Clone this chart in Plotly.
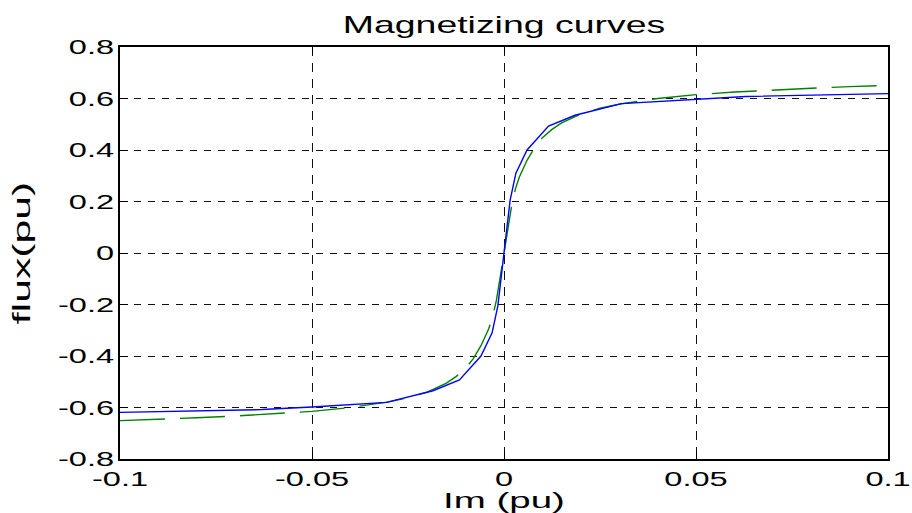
import plotly.graph_objects as go

# Measured magnetizing characteristic (piecewise linear), Im in pu vs flux in pu
im_measured = [-0.1, -0.063, -0.05, -0.0306, -0.0185, -0.0116, -0.006, -0.0031, -0.0016, 0.0,
               0.0016, 0.0031, 0.006, 0.0116, 0.0185, 0.0306, 0.05, 0.063, 0.1]
flux_measured = [-0.619, -0.608, -0.598, -0.580, -0.535, -0.493, -0.400, -0.310, -0.205, 0.0,
                 0.205, 0.310, 0.400, 0.493, 0.535, 0.580, 0.598, 0.608, 0.619]

# Fitted magnetizing curve
im_fit = [-0.1, -0.09, -0.08, -0.07, -0.06, -0.05, -0.04, -0.03, -0.025, -0.02, -0.015,
          -0.0125, -0.01, -0.008, -0.006, -0.004, -0.003, -0.002, -0.001, 0.0,
          0.001, 0.002, 0.003, 0.004, 0.006, 0.008, 0.01, 0.0125, 0.015, 0.02,
          0.025, 0.03, 0.04, 0.05, 0.06, 0.07, 0.08, 0.09, 0.1]
flux_fit = [-0.651, -0.646, -0.640, -0.633, -0.625, -0.615, -0.600, -0.578, -0.562, -0.540, -0.505,
            -0.480, -0.448, -0.410, -0.360, -0.295, -0.250, -0.185, -0.095, 0.0,
            0.095, 0.185, 0.250, 0.295, 0.360, 0.410, 0.448, 0.480, 0.505, 0.540,
            0.562, 0.578, 0.600, 0.615, 0.625, 0.633, 0.640, 0.646, 0.651]

x_ticks = [-0.1, -0.05, 0.0, 0.05, 0.1]
x_tick_text = ["-0.1", "-0.05", "0", "0.05", "0.1"]
y_ticks = [-0.8, -0.6, -0.4, -0.2, 0.0, 0.2, 0.4, 0.6, 0.8]
y_tick_text = ["-0.8", "-0.6", "-0.4", "-0.2", "0", "0.2", "0.4", "0.6", "0.8"]

FONT = "Liberation Sans, Arial, Helvetica, sans-serif"

fig = go.Figure()
fig.add_trace(go.Scatter(
    x=im_fit, y=flux_fit, mode="lines",
    line=dict(color="#008000", width=1.4, dash="45px,15px"),
    showlegend=False, hoverinfo="skip",
))
fig.add_trace(go.Scatter(
    x=im_measured, y=flux_measured, mode="lines",
    line=dict(color="#0000ff", width=1.4),
    showlegend=False, hoverinfo="skip",
))

axis_common = dict(
    showline=True, linecolor="black", linewidth=1.5, mirror="ticks",
    ticks="inside", ticklen=8, tickcolor="black", tickwidth=1,
    showgrid=True, gridcolor="#111111", gridwidth=1,
    zeroline=False, automargin=False,
    tickfont=dict(family=FONT, size=21, color="black"),
)

fig.update_xaxes(
    range=[-0.1, 0.1], tickvals=x_ticks, ticktext=x_tick_text,
    griddash="9px,7px",
    title=dict(text="Im (pu)", font=dict(family=FONT, size=22, color="black"), standoff=3),
    **axis_common,
)
fig.update_yaxes(
    range=[-0.8, 0.8], tickvals=y_ticks, ticktext=y_tick_text,
    griddash="7px,7px",
    title=dict(text="flux(pu)", font=dict(family=FONT, size=24, color="black"), standoff=40),
    **axis_common,
)

fig.update_layout(
    width=912, height=513,
    margin=dict(l=120, r=24, t=47, b=54, pad=0),
    paper_bgcolor="white", plot_bgcolor="white",
    title=dict(text="Magnetizing curves", x=0.5, xanchor="center", xref="paper",
               y=1 - 25 / 513, yanchor="middle", yref="container",
               font=dict(family=FONT, size=24, color="black")),
)

# Widen the glyphs along the text direction
post = """
var gd = document.getElementById('{plot_id}');
function widen(sel, s) {
  gd.querySelectorAll(sel).forEach(function (t) {
    var x = parseFloat(t.getAttribute('x')) || 0;
    var tr = t.getAttribute('transform') || '';
    t.setAttribute('transform', tr + ' translate(' + x + ',0) scale(' + s + ',1) translate(' + (-x) + ',0)');
  });
}
widen('.xtick text', 1.55);
widen('.ytick text', 1.55);
widen('.gtitle', 1.56);
widen('.xtitle', 1.75);
widen('.ytitle', 1.78);
"""

fig.write_html("out.html", post_script=post, config={"displayModeBar": False})
